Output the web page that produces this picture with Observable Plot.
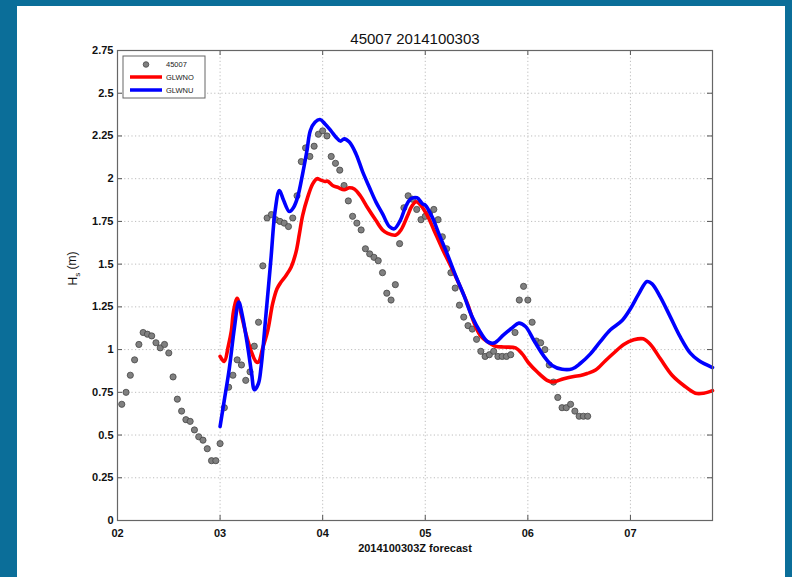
<!DOCTYPE html>
<html>
<head>
<meta charset="utf-8">
<script src="https://cdn.jsdelivr.net/npm/d3@7"></script>
<script src="https://cdn.jsdelivr.net/npm/@observablehq/plot@0.6"></script>
<style>
  html, body { margin: 0; padding: 0; }
  body { width: 792px; height: 577px; background: #0b6e99; position: relative; overflow: hidden;
         font-family: "Liberation Sans", Arial, sans-serif; }
  #panel { position: absolute; left: 17px; top: 6px; width: 768px; height: 571px; background: #fff; }
  #chart { position: absolute; left: 0; top: 0; }
</style>
</head>
<body>
<div id="panel"></div>
<div id="chart"></div>
<script>
// Buoy 45007, run 2014100303: observed significant wave height vs two model runs

const titleText = "45007 2014100303";
const xLabel = "2014100303Z forecast";
const yLabel = "Hs (m)";

const xTicks = [2, 3, 4, 5, 6, 7];
const xTickLabels = ["02", "03", "04", "05", "06", "07"];
const yTicks = [0, 0.25, 0.5, 0.75, 1, 1.25, 1.5, 1.75, 2, 2.25, 2.5, 2.75];
const yTickLabels = ["0", "0.25", "0.5", "0.75", "1", "1.25", "1.5", "1.75", "2", "2.25", "2.5", "2.75"];
const xDomain = [2, 7.8];

// hourly buoy observations (m), first value at day 02 01Z
const obsStart = 2 + 1 / 24;
const obsHs = [
  0.68, 0.75, 0.85, 0.94, 1.03, 1.10, 1.09, 1.08, 1.04, 1.01, 1.03, 0.98,
  0.84, 0.71, 0.64, 0.59, 0.58, 0.53, 0.49, 0.47, 0.42, 0.35, 0.35, 0.45,
  0.66, 0.78, 0.85, 0.94, 0.91, 0.82, 0.87, 1.02, 1.16, 1.49, 1.77, 1.79,
  1.76, 1.75, 1.74, 1.72, 1.77, 1.90, 2.10, 2.18, 2.13, 2.19, 2.26, 2.28,
  2.25, 2.13, 2.09, 2.05, 1.96, 1.87, 1.78, 1.74, 1.70, 1.59, 1.56, 1.54,
  1.52, 1.45, 1.33, 1.29, 1.38, 1.62, 1.83, 1.90, 1.88, 1.82, 1.76, 1.78,
  1.80, 1.82, 1.76, 1.66, 1.59, 1.45, 1.36, 1.26, 1.19, 1.14, 1.12, 1.06,
  0.99, 0.96, 0.97, 0.99, 0.96, 0.96, 0.96, 0.97, 1.10, 1.29, 1.37, 1.29,
  1.16, 1.05, 1.04, 1.00, 0.91, 0.81, 0.72, 0.66, 0.66, 0.68, 0.64, 0.61,
  0.61, 0.61
];

// model GLWNO: [day, Hs]
const glwno = [
  [3.0, 0.96], [3.04, 0.93], [3.08, 1.02], [3.11, 1.11], [3.13, 1.22], [3.166, 1.30],
  [3.205, 1.21], [3.253, 1.09], [3.3, 0.995], [3.35, 0.93], [3.373, 0.926], [3.416, 1.01],
  [3.464, 1.11], [3.513, 1.27], [3.555, 1.356], [3.594, 1.395], [3.643, 1.434], [3.692, 1.482],
  [3.74, 1.57], [3.773, 1.677], [3.805, 1.785], [3.854, 1.892], [3.903, 1.97], [3.945, 2.0],
  [3.977, 1.993], [4.023, 1.984], [4.049, 1.985], [4.097, 1.96], [4.146, 1.95], [4.21, 1.935],
  [4.26, 1.947], [4.308, 1.94], [4.367, 1.90], [4.438, 1.83], [4.52, 1.755], [4.584, 1.70],
  [4.633, 1.68], [4.714, 1.67], [4.763, 1.70], [4.825, 1.78], [4.87, 1.84], [4.912, 1.865],
  [4.955, 1.845], [5.02, 1.785], [5.084, 1.70], [5.166, 1.59], [5.247, 1.49], [5.328, 1.385],
  [5.41, 1.27], [5.474, 1.16], [5.539, 1.08], [5.62, 1.04], [5.685, 1.02], [5.766, 1.015],
  [5.88, 1.01], [5.945, 0.975], [6.01, 0.92], [6.09, 0.87], [6.188, 0.82], [6.247, 0.81],
  [6.35, 0.83], [6.448, 0.843], [6.513, 0.848], [6.578, 0.86], [6.66, 0.88], [6.756, 0.935],
  [6.838, 0.98], [6.935, 1.03], [7.032, 1.057], [7.123, 1.063], [7.195, 1.03], [7.292, 0.946],
  [7.406, 0.85], [7.52, 0.79], [7.633, 0.745], [7.714, 0.745], [7.8, 0.76]
];

// model GLWNU: [day, Hs]
const glwnu = [
  [3.0, 0.55], [3.04, 0.70], [3.09, 0.89], [3.14, 1.13], [3.182, 1.278], [3.22, 1.19],
  [3.27, 1.014], [3.308, 0.858], [3.334, 0.765], [3.373, 0.80], [3.40, 0.90], [3.448, 1.21],
  [3.497, 1.54], [3.536, 1.81], [3.578, 1.93], [3.62, 1.872], [3.675, 1.808], [3.717, 1.833],
  [3.756, 1.892], [3.805, 2.03], [3.847, 2.165], [3.88, 2.282], [3.925, 2.33], [3.974, 2.346],
  [4.023, 2.32], [4.081, 2.28], [4.13, 2.243], [4.172, 2.22], [4.21, 2.233], [4.26, 2.214],
  [4.325, 2.145], [4.39, 2.04], [4.455, 1.95], [4.52, 1.863], [4.584, 1.794], [4.65, 1.72],
  [4.698, 1.707], [4.756, 1.755], [4.812, 1.84], [4.86, 1.882], [4.919, 1.888], [4.974, 1.853],
  [5.003, 1.843], [5.068, 1.775], [5.133, 1.677], [5.214, 1.56], [5.295, 1.434], [5.377, 1.317],
  [5.458, 1.19], [5.539, 1.10], [5.61, 1.045], [5.669, 1.038], [5.766, 1.088], [5.847, 1.127],
  [5.912, 1.155], [5.977, 1.135], [6.058, 1.055], [6.156, 0.962], [6.237, 0.907], [6.334, 0.885],
  [6.432, 0.887], [6.513, 0.92], [6.61, 0.975], [6.708, 1.048], [6.805, 1.116], [6.919, 1.17],
  [7.0, 1.239], [7.081, 1.326], [7.162, 1.398], [7.211, 1.385], [7.292, 1.307], [7.39, 1.19],
  [7.487, 1.073], [7.584, 0.979], [7.666, 0.936], [7.8, 0.895]
];

const seriesNames = ["45007", "GLWNO", "GLWNU"];
const seriesColors = ["#808080", "#ff0000", "#0000ff"];

const obs = obsHs.map((h, i) => ({t: obsStart + i / 24, h}));
const toRows = (pairs) => pairs.map(([t, h]) => ({t, h}));

const gridStyle = {stroke: "#bdbdbd", strokeOpacity: 1, strokeDasharray: "1.2,2.4", strokeWidth: 1};
const tickStyle = {stroke: "#555", strokeWidth: 1};
const frameH = 470, frameW = 595, tickLen = 5;

const chart = Plot.plot({
  width: 792,
  height: 577,
  marginLeft: 117,
  marginRight: 80,
  marginTop: 50,
  marginBottom: 57,
  style: {background: "transparent", fontFamily: "'Liberation Sans', Arial, sans-serif", fontSize: "11px", color: "#111", overflow: "visible"},
  x: {domain: xDomain},
  y: {domain: [yTicks[0], yTicks[yTicks.length - 1]]},
  marks: [
    Plot.gridX(xTicks.slice(1), gridStyle),
    Plot.gridY(yTicks.slice(1, -1), gridStyle),
    Plot.axisX(xTicks, {tickSize: 0, tickPadding: 9, label: null, fontWeight: "bold", fill: "#111", tickFormat: (d) => xTickLabels[xTicks.indexOf(d)]}),
    Plot.axisY(yTicks, {tickSize: 0, tickPadding: 4, label: null, fontWeight: "bold", fill: "#111", tickFormat: (d) => yTickLabels[yTicks.indexOf(d)]}),
    // inward tick marks on all four sides of the box
    Plot.tickX(xTicks, {x: (d) => d, insetTop: frameH - tickLen, ...tickStyle}),
    Plot.tickX(xTicks, {x: (d) => d, insetBottom: frameH - tickLen, ...tickStyle}),
    Plot.tickY(yTicks, {y: (d) => d, insetRight: frameW - tickLen, ...tickStyle}),
    Plot.tickY(yTicks, {y: (d) => d, insetLeft: frameW - tickLen, ...tickStyle}),
    Plot.dot(obs, {x: "t", y: "h", r: 3.1, fill: seriesColors[0], stroke: "#454545", strokeWidth: 0.8}),
    Plot.line(toRows(glwno), {x: "t", y: "h", stroke: seriesColors[1], strokeWidth: 3.6, curve: "catmull-rom"}),
    Plot.line(toRows(glwnu), {x: "t", y: "h", stroke: seriesColors[2], strokeWidth: 3.6, curve: "catmull-rom"}),
    Plot.frame({stroke: "#666", strokeWidth: 1.2}),
    Plot.text([titleText], {frameAnchor: "top", dy: -17, fontSize: 15, fill: "#111"}),
    Plot.text([xLabel], {frameAnchor: "bottom", dy: 31, fontSize: 11, fontWeight: "bold", fill: "#111"}),
    Plot.text([yLabel], {frameAnchor: "left", dx: -44, rotate: -90, fontSize: 12, fill: "#111"})
  ]
});

// y label with a subscript "s"
const svg = d3.select(chart);
svg.selectAll("text").filter(function () { return this.textContent === yLabel; }).each(function () {
  const t = d3.select(this);
  t.text("H");
  t.append("tspan").attr("dy", "0.35em").attr("font-size", "8px").text("s");
  t.append("tspan").attr("dy", "-0.35em").text(" (m)");
});

// legend box in the upper-left corner of the axes
const lg = svg.append("g")
  .attr("font-family", "'Liberation Sans', Arial, sans-serif")
  .attr("font-size", "7.5px")
  .attr("text-anchor", "start")
  .attr("fill", "#222");
lg.append("rect").attr("x", 123).attr("y", 56).attr("width", 82).attr("height", 42)
  .attr("fill", "#fff").attr("stroke", "#666").attr("stroke-width", 1);
const rowsY = [64.5, 77, 90];
lg.append("circle").attr("cx", 146).attr("cy", rowsY[0]).attr("r", 2.8)
  .attr("fill", seriesColors[0]).attr("stroke", "#454545").attr("stroke-width", 0.8);
[1, 2].forEach((i) => {
  lg.append("line").attr("x1", 130).attr("x2", 162).attr("y1", rowsY[i]).attr("y2", rowsY[i])
    .attr("stroke", seriesColors[i]).attr("stroke-width", 3.5);
});
seriesNames.forEach((name, i) => {
  lg.append("text").attr("x", 166).attr("y", rowsY[i]).attr("dy", "0.35em").text(name);
});

document.getElementById("chart").appendChild(chart);
</script>
</body>
</html>
